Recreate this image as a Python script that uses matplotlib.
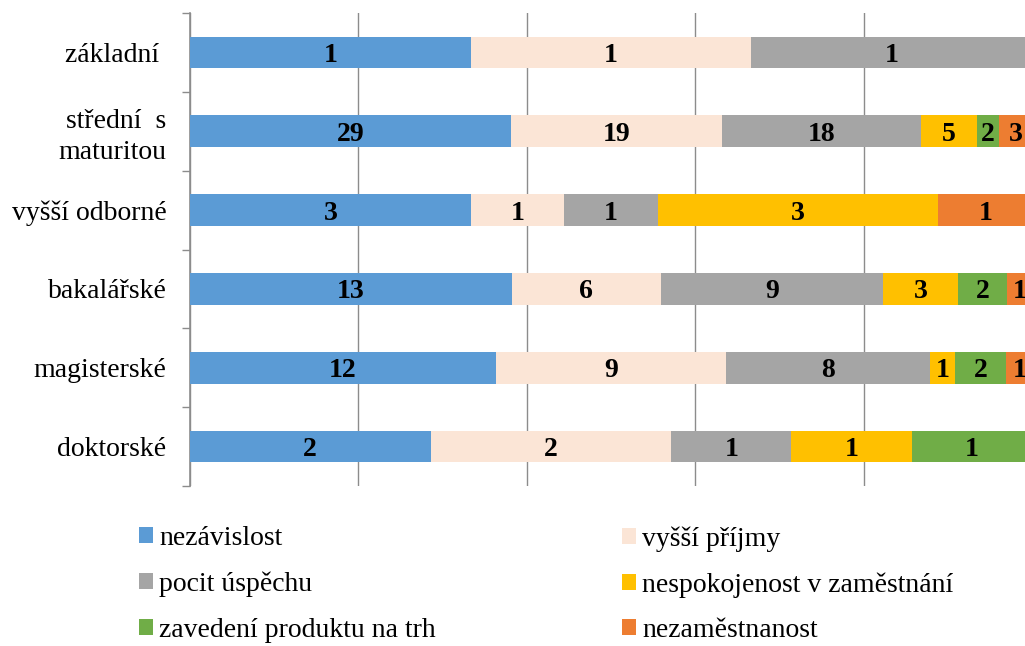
import matplotlib
matplotlib.use("Agg")
import matplotlib.pyplot as plt
import numpy as np
from matplotlib.patches import Patch

plt.rcParams['font.family'] = ['Liberation Serif', 'DejaVu Serif']

categories = ["základní ", "střední  s\nmaturitou", "vyšší odborné", "bakalářské", "magisterské", "doktorské"]
series_names = ["nezávislost", "vyšší příjmy", "pocit úspěchu",
                "nespokojenost v zaměstnání", "zavedení produktu na trh", "nezaměstnanost"]
colors = ["#5B9BD5", "#FBE5D6", "#A5A5A5", "#FFC000", "#70AD47", "#ED7D31"]

nezavislost = [1, 29, 3, 13, 12, 2]
vyssi_prijmy = [1, 19, 1, 6, 9, 2]
pocit_uspechu = [1, 18, 1, 9, 8, 1]
nespokojenost = [0, 5, 3, 3, 1, 1]
zavedeni_produktu = [0, 2, 0, 2, 2, 1]
nezamestnanost = [0, 3, 1, 1, 1, 0]

data = np.array([nezavislost, vyssi_prijmy, pocit_uspechu,
                 nespokojenost, zavedeni_produktu, nezamestnanost], dtype=float)
totals = data.sum(axis=0)
shares = data / totals

W, H = 1025, 646
fig = plt.figure(figsize=(W / 100, H / 100), dpi=100)
ax = fig.add_axes([190 / W, (H - 486) / H, 842 / W, 473 / H])

y = np.arange(len(categories))
left = np.zeros(len(categories))
FS = 20
for i in range(len(series_names)):
    ax.barh(y, shares[i], left=left, height=0.4, color=colors[i], zorder=3)
    for j in range(len(categories)):
        if data[i, j] > 0:
            ax.text(left[j] + shares[i, j] / 2, y[j], f"{int(data[i, j])}",
                    ha='center', va='center_baseline', fontsize=FS, fontweight='bold',
                    color='black', zorder=4)
    left += shares[i]

ax.set_xlim(0, 1)
ax.set_ylim(len(categories) - 0.5, -0.5)

ax.set_xticks([0, 0.2, 0.4, 0.6, 0.8, 1.0])
ax.set_xticklabels([])
ax.tick_params(axis='x', length=0)
ax.grid(axis='x', color='#8c8c8c', linewidth=1, zorder=0)

ax.set_yticks(np.arange(-0.5, len(categories), 1.0))
ax.set_yticklabels([])
ax.set_yticks(y, minor=True)
ax.set_yticklabels(categories, minor=True, fontsize=FS, linespacing=1.3)
ax.tick_params(axis='y', which='major', length=6, color='#8c8c8c', width=1)
ax.tick_params(axis='y', which='minor', length=0, pad=17)

for s in ['top', 'right', 'bottom']:
    ax.spines[s].set_visible(False)
ax.spines['left'].set_color('#8c8c8c')
ax.spines['left'].set_linewidth(1.2)

handles = [Patch(facecolor=c) for c in colors]
common = dict(frameon=False, fontsize=FS, handlelength=0.5, handleheight=0.5,
              handletextpad=0.22, labelspacing=0.74, borderpad=0, borderaxespad=0,
              loc='upper left')
leg1 = fig.legend([handles[0], handles[2], handles[4]],
                  [series_names[0], series_names[2], series_names[4]],
                  bbox_to_anchor=(139 / W, 1 - 526 / H), **common)
leg2 = fig.legend([handles[1], handles[3], handles[5]],
                  [series_names[1], series_names[3], series_names[5]],
                  bbox_to_anchor=(622 / W, 1 - 526 / H), **common)

fig.savefig("out.png", dpi=100)
